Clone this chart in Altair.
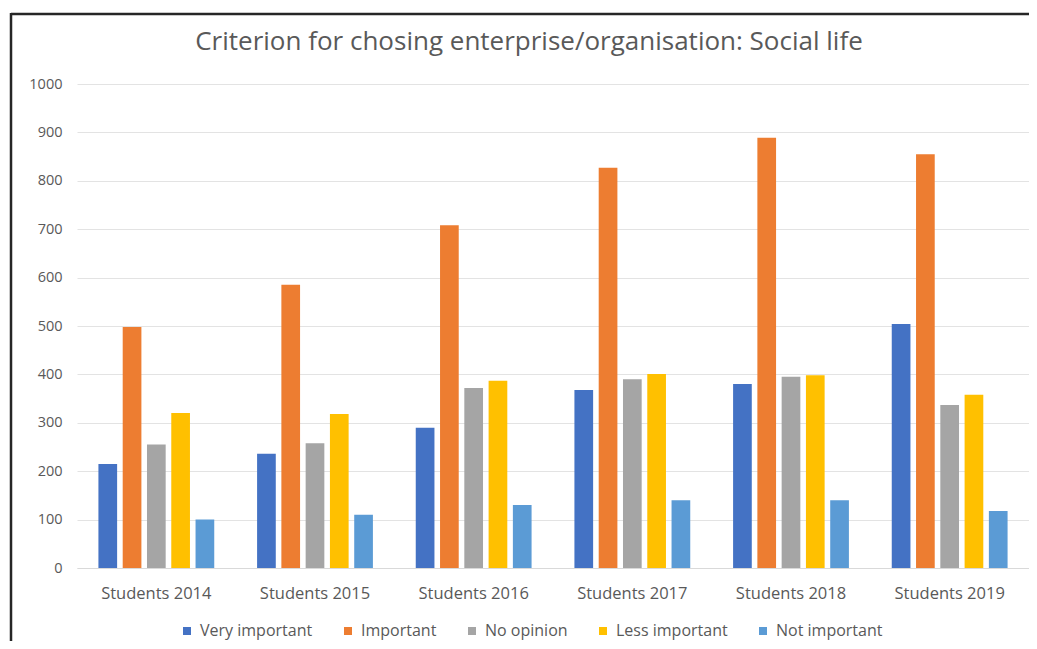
import altair as alt
import pandas as pd

title_text = "Criterion for chosing enterprise/organisation: Social life"
years = ["Students 2014", "Students 2015", "Students 2016", "Students 2017", "Students 2018", "Students 2019"]
series = ["Very important", "Important", "No opinion", "Less important", "Not important"]
very_important = [215, 236, 290, 368, 380, 504]
important = [498, 585, 708, 827, 889, 855]
no_opinion = [255, 258, 372, 390, 395, 337]
less_important = [320, 318, 387, 401, 398, 358]
not_important = [100, 110, 130, 140, 140, 118]
colors = ["#4472C4", "#ED7D31", "#A5A5A5", "#FFC000", "#5B9BD5"]

rows = []
for name, vals in zip(series, [very_important, important, no_opinion, less_important, not_important]):
    for y, v in zip(years, vals):
        rows.append({"year": y, "series": name, "value": v})
df = pd.DataFrame(rows)
one = pd.DataFrame({"t": [title_text]})

FONT = "Open Sans"
GREY = "#595959"

bars = alt.Chart(df).mark_bar().encode(
    x=alt.X("year:N", sort=years, title=None,
            scale=alt.Scale(paddingInner=0.27, paddingOuter=0.135),
            axis=alt.Axis(labelAngle=0, labelFontSize=16.5, labelColor=GREY, labelFont=FONT,
                          labelPadding=17, ticks=False, domainColor="#D9D9D9", domainWidth=1)),
    xOffset=alt.XOffset("series:N", sort=series,
                        scale=alt.Scale(paddingInner=0.23, paddingOuter=0)),
    y=alt.Y("value:Q", title=None,
            scale=alt.Scale(domain=[0, 1000]),
            axis=alt.Axis(values=list(range(0, 1001, 100)), format="d", labelFontSize=14.5,
                          labelColor=GREY, labelFont=FONT, labelPadding=15, ticks=False,
                          domain=False, gridColor="#E3E3E3", gridWidth=1.2)),
    color=alt.Color("series:N", sort=series, title=None,
                    scale=alt.Scale(domain=series, range=colors),
                    legend=alt.Legend(orient="none", direction="horizontal", legendX=102, legendY=539,
                                      symbolType="square", symbolSize=64, symbolStrokeWidth=0,
                                      labelFontSize=16, labelColor=GREY, labelFont=FONT,
                                      columnPadding=27, labelOffset=5)),
)

title = alt.Chart(one).mark_text(font=FONT, fontSize=26, color=GREY, align="center",
                                 baseline="alphabetic").encode(
    text="t:N", x=alt.value(452), y=alt.value(-34))

frame_left = alt.Chart(one).mark_rule(color="#262626", strokeWidth=2.5, clip=False).encode(
    x=alt.value(-66), y=alt.value(-71), y2=alt.value(560))
frame_top = alt.Chart(one).mark_rule(color="#262626", strokeWidth=2.5, clip=False).encode(
    x=alt.value(-66), x2=alt.value(952), y=alt.value(-70))

chart = alt.layer(bars, title, frame_left, frame_top).properties(
    width=952, height=484,
    background="white",
    autosize=alt.AutoSizeParams(type="none"),
    padding={"left": 69, "top": 76, "right": 0, "bottom": 73},
).configure_view(stroke=None)

chart.save("out.html", embed_options={"renderer": "svg", "actions": False})
